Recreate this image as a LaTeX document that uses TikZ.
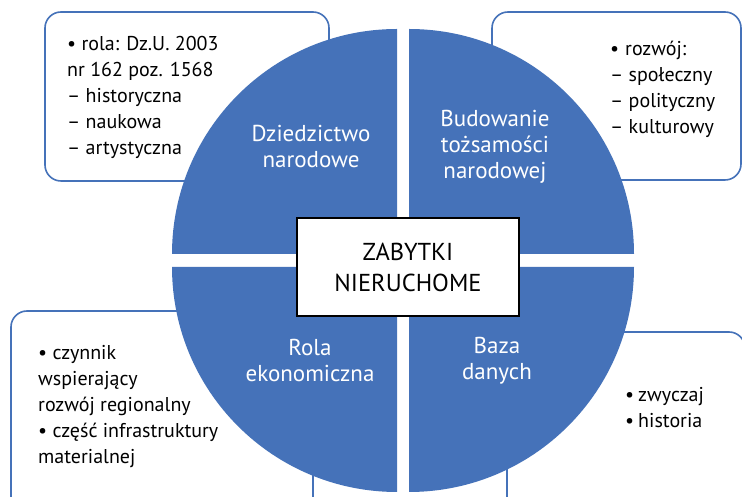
\documentclass[tikz,border=0pt]{standalone}
\usepackage{fontspec}
\setmainfont{PT Sans}
\usetikzlibrary{positioning}
\definecolor{quadblue}{RGB}{69,114,185}
\tikzstyle{every node}=[font=\fontsize{20}{26}\selectfont]

\begin{document}
\begin{tikzpicture}[
            x=1pt, y=1pt,
            quadrant/.style={fill=quadblue},
            info box/.style={draw=quadblue, line width=1.6pt, rounded corners=16pt, fill=white},
            info text/.style={align=left, text=black, inner sep=0pt, anchor=west},
            quad label/.style={align=center, text=white, inner sep=0pt, font=\fontsize{23}{26}\selectfont},
            main box/.style={draw=black, line width=2pt, fill=white, align=center, minimum width=222pt, minimum height=98pt, font=\fontsize{24.5}{31}\selectfont}
        ]

            \useasboundingbox (0,0) rectangle (742,497);
            \clip (0,0) rectangle (742,497);

            % --- Rounded boxes behind the circle ---
            \draw[info box] (45,316) rectangle (329,485);
            \draw[info box] (492,317) rectangle (741,485);
            \draw[info box] (11,-20) rectangle (313,186);
            \draw[info box] (507,-20) rectangle (745,165);

            % --- Four quarters of the circle ---
            \fill[quadrant] (397,243) -- ++(-225,0) arc[start angle=180, end angle=90, radius=225] -- cycle;
            \fill[quadrant] (409,243) -- ++(0,225) arc[start angle=90, end angle=0, radius=225] -- cycle;
            \fill[quadrant] (397,230) -- ++(0,-225) arc[start angle=270, end angle=180, radius=225] -- cycle;
            \fill[quadrant] (409,230) -- ++(225,0) arc[start angle=0, end angle=-90, radius=225] -- cycle;

            % --- Quarter labels ---
            \node[quad label] (heritage) at (311,350) {Dziedzictwo\\narodowe};
            \node[quad label] (identity) at (495,350) {Budowanie\\tożsamości\\narodowej};
            \node[quad label] (economy) at (310,136) {Rola\\ekonomiczna};
            \node[quad label] (database) at (497,136) {Baza\\danych};

            % --- Centre box ---
            \node[main box] (monuments) at (408,230) {ZABYTKI\\NIERUCHOME};

            % --- Texts in the boxes ---
            \node[info text] (heritage list) at (67,400) {• rola: Dz.U. 2003\\nr 162 poz. 1568\\– historyczna\\– naukowa\\– artystyczna};
            \node[info text] (identity list) at (610,408) {\makebox[15pt][l]{•}rozwój:\\– społeczny\\– polityczny\\– kulturowy};
            \node[info text] (economy list) at (38,90) {• czynnik\\wspierający\\rozwój regionalny\\• część infrastruktury\\materialnej};
            \node[info text] (database list) at (625,89) {\makebox[13pt][l]{•}zwyczaj\\\makebox[13pt][l]{•}historia};

        \end{tikzpicture}
\end{document}
